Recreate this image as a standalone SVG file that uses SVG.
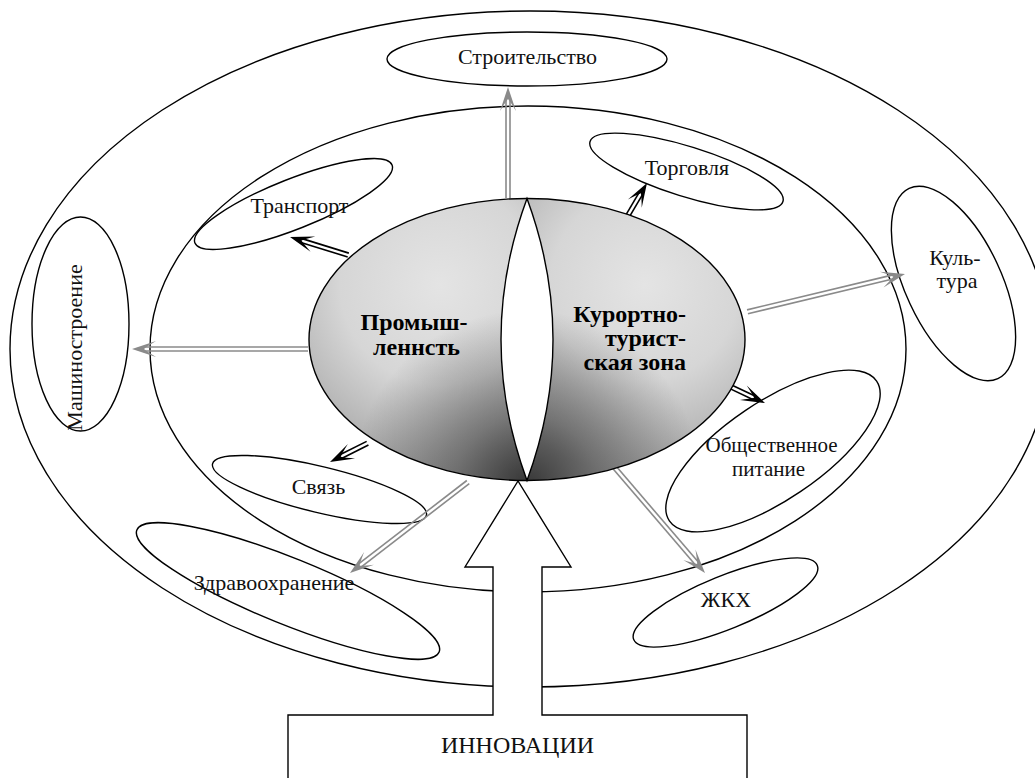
<svg xmlns="http://www.w3.org/2000/svg" xmlns:xlink="http://www.w3.org/1999/xlink" width="1035" height="778" viewBox="0 0 1035 778">
  <style>
    .ring { fill: none; stroke: #000; stroke-width: 1.4; }
    .node { fill: none; stroke: #000; stroke-width: 1.4; }
    .lbl { font-family: 'Liberation Serif', Tinos, 'Times New Roman', 'DejaVu Serif', serif; font-size: 22px; fill: #111; text-anchor: middle; }
    .core { font-family: 'Liberation Serif', Tinos, 'Times New Roman', 'DejaVu Serif', serif; font-size: 24px; font-weight: bold; fill: #000; }
    .arr-g line { stroke: #8a8a8a; stroke-width: 1.6; }
    .arr-g use { fill: #8a8a8a; }
    .arr-k line { stroke: #000; stroke-width: 1.6; }
    .arr-k use { fill: #000; }
  </style>
  <defs>
    <!-- barbed head, tip at origin pointing along +x -->
    <path id="head" d="M0,0 L-24,-8 Q-15,-2.5 -12,0 Q-15,2.5 -24,8 Z"/>
    <radialGradient id="shadeL" gradientUnits="userSpaceOnUse" cx="440" cy="285" r="200">
      <stop offset="0" stop-color="#e4e4e4"/>
      <stop offset="0.5" stop-color="#d6d6d6"/>
      <stop offset="1" stop-color="#a2a2a2"/>
    </radialGradient>
    <radialGradient id="shadeR" gradientUnits="userSpaceOnUse" cx="645" cy="285" r="190">
      <stop offset="0" stop-color="#e4e4e4"/>
      <stop offset="0.5" stop-color="#d6d6d6"/>
      <stop offset="1" stop-color="#a8a8a8"/>
    </radialGradient>
    <radialGradient id="crease" gradientUnits="userSpaceOnUse" cx="527" cy="485" r="175">
      <stop offset="0" stop-color="#2a2a2a" stop-opacity="0.9"/>
      <stop offset="0.4" stop-color="#333" stop-opacity="0.5"/>
      <stop offset="1" stop-color="#333" stop-opacity="0"/>
    </radialGradient>
  </defs>

  <rect width="1035" height="778" fill="#fff"/>

  <!-- zone rings -->
  <g id="rings">
    <ellipse class="ring" cx="530" cy="349" rx="520" ry="338"/>
    <ellipse class="ring" cx="528" cy="349" rx="378" ry="243"/>
  </g>

  <!-- sector nodes -->
  <g id="node-stroitelstvo">
    <ellipse class="node" cx="527" cy="59" rx="140" ry="27"/>
    <text class="lbl" x="527.5" y="64">Строительство</text>
  </g>
  <g id="node-transport">
    <ellipse class="node" cx="293.5" cy="204" rx="106" ry="25" transform="rotate(-21.6 293.5 204)"/>
    <text class="lbl" x="299.5" y="213">Транспорт</text>
  </g>
  <g id="node-torgovlya">
    <ellipse class="node" cx="686.5" cy="171.5" rx="101" ry="25" transform="rotate(17.3 686.5 171.5)"/>
    <text class="lbl" x="687" y="175">Торговля</text>
  </g>
  <g id="node-kultura">
    <ellipse class="node" cx="953.5" cy="283.5" rx="48" ry="105" transform="rotate(-25 953.5 283.5)"/>
    <text class="lbl" x="955" y="265">Куль-</text>
    <text class="lbl" x="957" y="288">тура</text>
  </g>
  <g id="node-pitanie">
    <ellipse class="node" cx="773" cy="451" rx="125" ry="49" transform="rotate(-34 773 451)"/>
    <text class="lbl" x="771.5" y="452" style="font-size:21px">Общественное</text>
    <text class="lbl" x="768.5" y="476" style="font-size:21px">питание</text>
  </g>
  <g id="node-zhkh">
    <ellipse class="node" cx="725.5" cy="602.5" rx="99" ry="26.5" transform="rotate(-22 725.5 602.5)"/>
    <text class="lbl" x="726" y="607">ЖКХ</text>
  </g>
  <g id="node-svyaz">
    <ellipse class="node" cx="319.5" cy="489.5" rx="110" ry="23" transform="rotate(13.5 319.5 489.5)"/>
    <text class="lbl" x="318.5" y="494">Связь</text>
  </g>
  <g id="node-zdravoohranenie">
    <ellipse class="node" cx="288" cy="591" rx="163" ry="33" transform="rotate(22 288 591)"/>
    <text class="lbl" x="274" y="590">Здравоохранение</text>
  </g>
  <g id="node-mashinostroenie">
    <ellipse class="node" cx="80.5" cy="324" rx="48.5" ry="107"/>
    <text class="lbl" x="0" y="0" transform="translate(82 347.5) rotate(-90)">Машиностроение</text>
  </g>

  <!-- connectors: double-line arrows -->
  <g id="connectors">
    <g class="arr-g" transform="translate(508 87) rotate(-90)">
      <line x1="-111" y1="-2" x2="-12" y2="-2"/><line x1="-111" y1="2" x2="-12" y2="2"/><use xlink:href="#head" href="#head"/>
    </g>
    <g class="arr-g" transform="translate(132 349) rotate(180)">
      <line x1="-176" y1="-2" x2="-12" y2="-2"/><line x1="-176" y1="2" x2="-12" y2="2"/><use xlink:href="#head" href="#head"/>
    </g>
    <g class="arr-g" transform="translate(905 274) rotate(-13.5)">
      <line x1="-162" y1="-2" x2="-12" y2="-2"/><line x1="-162" y1="2" x2="-12" y2="2"/><use xlink:href="#head" href="#head"/>
    </g>
    <g class="arr-g" transform="translate(350 573) rotate(142.4)">
      <line x1="-149" y1="-2" x2="-12" y2="-2"/><line x1="-149" y1="2" x2="-12" y2="2"/><use xlink:href="#head" href="#head"/>
    </g>
    <g class="arr-g" transform="translate(705 573) rotate(49.4)">
      <line x1="-146" y1="-2" x2="-12" y2="-2"/><line x1="-146" y1="2" x2="-12" y2="2"/><use xlink:href="#head" href="#head"/>
    </g>
    <g class="arr-k" transform="translate(290 237) rotate(197.2)">
      <line x1="-61" y1="-2" x2="-12" y2="-2"/><line x1="-61" y1="2" x2="-12" y2="2"/><use xlink:href="#head" href="#head"/>
    </g>
    <g class="arr-k" transform="translate(647 183) rotate(-59.5)">
      <line x1="-39" y1="-2" x2="-12" y2="-2"/><line x1="-39" y1="2" x2="-12" y2="2"/><use xlink:href="#head" href="#head"/>
    </g>
    <g class="arr-k" transform="translate(765 403) rotate(25.3)">
      <line x1="-42" y1="-2" x2="-12" y2="-2"/><line x1="-42" y1="2" x2="-12" y2="2"/><use xlink:href="#head" href="#head"/>
    </g>
    <g class="arr-k" transform="translate(330 462) rotate(153.4)">
      <line x1="-42" y1="-2" x2="-12" y2="-2"/><line x1="-42" y1="2" x2="-12" y2="2"/><use xlink:href="#head" href="#head"/>
    </g>
  </g>

  <!-- core: two shaded halves split by a white lens -->
  <g id="node-core">
    <path d="M527,198.5 A218,141 0 0 0 527,480.5 Q475,339.5 527,198.5 Z" fill="url(#shadeL)"/>
    <path d="M527,198.5 A218,141 0 0 1 527,480.5 Q579,339.5 527,198.5 Z" fill="url(#shadeR)"/>
    <ellipse cx="527" cy="339.5" rx="218" ry="141" fill="url(#crease)"/>
    <path d="M527,198.5 Q475,339.5 527,480.5 Q579,339.5 527,198.5 Z" fill="#fff" stroke="#000" stroke-width="1.4"/>
    <ellipse cx="527" cy="339.5" rx="218" ry="141" fill="none" stroke="#000" stroke-width="1.4"/>
    <text class="core" x="414" y="330" text-anchor="middle">Промыш-</text>
    <text class="core" x="416.5" y="355" text-anchor="middle">леннсть</text>
    <text class="core" x="686" y="322" text-anchor="end">Курортно-</text>
    <text class="core" x="686" y="346" text-anchor="end">турист-</text>
    <text class="core" x="686" y="370" text-anchor="end">ская зона</text>
  </g>

  <!-- innovation source with hollow arrow -->
  <g id="node-innovacii">
    <path d="M288,790 L288,715 L493,715 L493,567 L465,567 L518,481 L571,567 L542,567 L542,715 L747,715 L747,790" fill="#fff" stroke="#000" stroke-width="1.4"/>
    <text class="lbl" x="517.5" y="753" style="font-size:24px">ИННОВАЦИИ</text>
  </g>
</svg>
